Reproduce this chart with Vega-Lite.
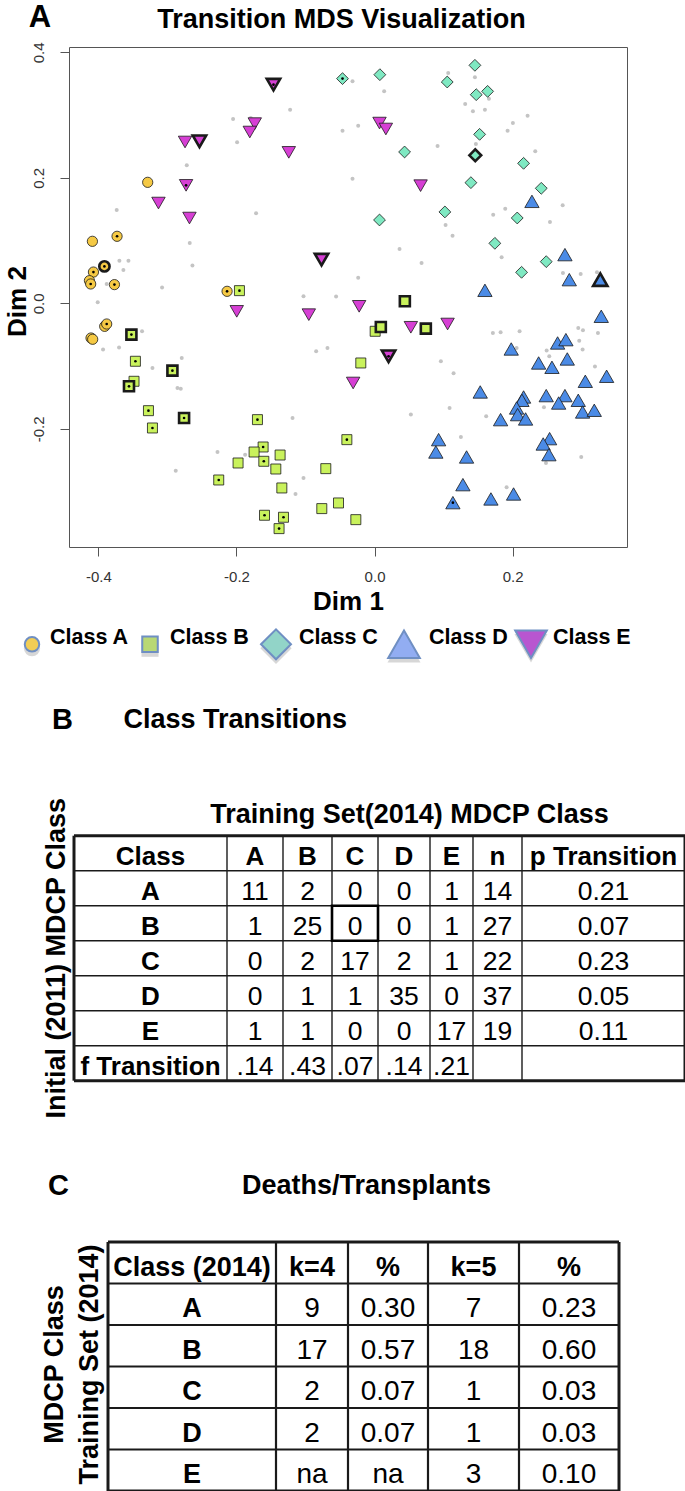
{
  "$schema": "https://vega.github.io/schema/vega-lite/v6.json",
  "padding": {"left": 3, "top": 0, "right": 0, "bottom": 0},
  "bounds": "flush",
  "spacing": 0,
  "config": {
    "font": "Liberation Sans",
    "view": {"stroke": null},
    "axis": {"grid": false, "domain": false},
    "text": {"font": "Liberation Sans", "color": "#000"},
    "title": {"font": "Liberation Sans", "color": "#000"}
  },
  "resolve": {"scale": {"x": "independent", "y": "independent", "fill": "independent", "shape": "independent", "size": "independent", "strokeWidth": "independent"}},
  "datasets": {
    "gray": [
      {"x":-0.1223,"y":0.3086},{"x":-0.2049,"y":0.2937},{"x":-0.1793,"y":0.2953},{"x":-0.1991,"y":0.2566},{"x":-0.2720,"y":0.2199},{"x":-0.1716,"y":0.1434},{"x":-0.3735,"y":0.1487},{"x":-0.2677,"y":0.0961},{"x":-0.2638,"y":0.0601},{"x":-0.3696,"y":0.0680},{"x":-0.3565,"y":0.0680},{"x":-0.3638,"y":0.0531},{"x":-0.3880,"y":0.0308},{"x":-0.3078,"y":0.0250},{"x":-0.4010,"y":0.0016},{"x":-0.1029,"y":0.0112},{"x":-0.0557,"y":0.0107},{"x":-0.0464,"y":0.2752},{"x":-0.0319,"y":0.3538},{"x":0.0139,"y":0.3378},{"x":0.1067,"y":0.3670},{"x":0.1454,"y":0.3602},{"x":0.1313,"y":0.3176},{"x":0.1425,"y":0.3060},{"x":0.1599,"y":0.3086},{"x":0.1657,"y":0.3262},{"x":0.2217,"y":0.2991},{"x":0.2004,"y":0.2873},{"x":0.1927,"y":0.2752},{"x":-0.0237,"y":0.2831},{"x":0.0913,"y":0.2507},{"x":0.1468,"y":0.2539},{"x":0.2328,"y":0.2422},{"x":-0.0319,"y":0.1987},{"x":0.2725,"y":0.1562},{"x":0.1893,"y":0.1509},{"x":0.1719,"y":0.1413},{"x":0.2541,"y":0.1296},{"x":0.1029,"y":0.1248},{"x":0.1130,"y":0.1078},{"x":0.0362,"y":0.0866},{"x":0.0681,"y":0.0643},{"x":0.1841,"y":0.0733},{"x":0.2729,"y":0.0483},{"x":0.2986,"y":0.0467},{"x":0.3222,"y":0.0494},{"x":-0.0237,"y":0.0409},{"x":-0.3368,"y":-0.0446},{"x":-0.3933,"y":-0.0738},{"x":-0.3701,"y":-0.0706},{"x":-0.3217,"y":-0.1031},{"x":-0.2793,"y":-0.0871},{"x":-0.2855,"y":-0.1350},{"x":-0.2807,"y":-0.1360},{"x":-0.2880,"y":-0.2667},{"x":-0.2275,"y":-0.2370},{"x":-0.1875,"y":-0.2412},{"x":-0.1188,"y":-0.1828},{"x":-0.1029,"y":-0.2784},{"x":-0.1145,"y":-0.3039},{"x":-0.0846,"y":-0.0765},{"x":-0.0682,"y":-0.0712},{"x":0.1714,"y":-0.0473},{"x":0.1826,"y":-0.0462},{"x":0.2101,"y":-0.0446},{"x":0.2058,"y":-0.0712},{"x":0.2493,"y":-0.0754},{"x":0.2531,"y":-0.0845},{"x":0.2951,"y":-0.0394},{"x":0.3019,"y":-0.0430},{"x":0.3236,"y":-0.0473},{"x":0.2965,"y":-0.0595},{"x":0.3014,"y":-0.0738},{"x":0.3193,"y":-0.1009},{"x":0.0961,"y":-0.0924},{"x":0.1145,"y":-0.1116},{"x":0.0526,"y":-0.1774},{"x":0.1087,"y":-0.1668},{"x":0.1617,"y":-0.1801},{"x":0.2454,"y":-0.1657},{"x":0.1251,"y":-0.2130},{"x":0.2994,"y":-0.2449},{"x":0.2483,"y":-0.2545},{"x":0.1913,"y":-0.2932}
    ],
    "pts": [
      {"x":-0.4087,"y":0.0988,"c":"A","d":0,"b":0},{"x":-0.3286,"y":0.1928,"c":"A","d":0,"b":0},{"x":-0.3730,"y":0.1068,"c":"A","d":1,"b":0},{"x":-0.4072,"y":0.0498,"c":"A","d":1,"b":0},{"x":-0.4130,"y":0.0361,"c":"A","d":0,"b":0},{"x":-0.4112,"y":0.0308,"c":"A","d":1,"b":0},{"x":-0.3768,"y":0.0298,"c":"A","d":1,"b":0},{"x":-0.2136,"y":0.0191,"c":"A","d":1,"b":0},{"x":-0.3909,"y":-0.0367,"c":"A","d":0,"b":0},{"x":-0.3880,"y":-0.0330,"c":"A","d":1,"b":0},{"x":-0.4107,"y":-0.0553,"c":"A","d":0,"b":0},{"x":-0.4083,"y":-0.0573,"c":"A","d":0,"b":0},
      {"x":-0.1957,"y":0.0202,"c":"B","d":1,"b":0},{"x":-0.3464,"y":-0.0924,"c":"B","d":1,"b":0},{"x":-0.3484,"y":-0.1243,"c":"B","d":0,"b":0},{"x":-0.3275,"y":-0.1711,"c":"B","d":1,"b":0},{"x":-0.3217,"y":-0.1987,"c":"B","d":1,"b":0},{"x":-0.1696,"y":-0.1854,"c":"B","d":1,"b":0},{"x":-0.1614,"y":-0.2290,"c":"B","d":1,"b":0},{"x":-0.1745,"y":-0.2370,"c":"B","d":0,"b":0},{"x":-0.1604,"y":-0.2518,"c":"B","d":1,"b":0},{"x":-0.1368,"y":-0.2418,"c":"B","d":0,"b":0},{"x":-0.1977,"y":-0.2545,"c":"B","d":0,"b":0},{"x":-0.1430,"y":-0.2641,"c":"B","d":0,"b":0},{"x":-0.0706,"y":-0.2635,"c":"B","d":0,"b":0},{"x":-0.2257,"y":-0.2816,"c":"B","d":1,"b":0},{"x":-0.1343,"y":-0.2943,"c":"B","d":0,"b":0},{"x":-0.0522,"y":-0.3182,"c":"B","d":0,"b":0},{"x":-0.0764,"y":-0.3272,"c":"B","d":0,"b":0},{"x":-0.1594,"y":-0.3378,"c":"B","d":1,"b":0},{"x":-0.1319,"y":-0.3410,"c":"B","d":1,"b":0},{"x":-0.1383,"y":-0.3591,"c":"B","d":1,"b":0},{"x":-0.0401,"y":-0.2173,"c":"B","d":1,"b":0},{"x":-0.0271,"y":-0.3448,"c":"B","d":0,"b":0},{"x":-0.0199,"y":-0.0951,"c":"B","d":0,"b":0},{"x":0.0009,"y":-0.0446,"c":"B","d":0,"b":0},
      {"x":-0.0464,"y":0.3581,"c":"C","d":1,"b":0},{"x":0.0077,"y":0.3644,"c":"C","d":0,"b":0},{"x":0.1053,"y":0.3527,"c":"C","d":0,"b":0},{"x":0.1454,"y":0.3793,"c":"C","d":0,"b":0},{"x":0.1473,"y":0.3325,"c":"C","d":0,"b":0},{"x":0.1638,"y":0.3378,"c":"C","d":0,"b":0},{"x":0.1522,"y":0.2693,"c":"C","d":0,"b":0},{"x":0.0435,"y":0.2412,"c":"C","d":0,"b":0},{"x":0.2159,"y":0.2231,"c":"C","d":0,"b":0},{"x":0.1396,"y":0.1923,"c":"C","d":0,"b":0},{"x":0.2415,"y":0.1833,"c":"C","d":0,"b":0},{"x":0.1019,"y":0.1456,"c":"C","d":0,"b":0},{"x":0.0072,"y":0.1328,"c":"C","d":0,"b":0},{"x":0.2067,"y":0.1360,"c":"C","d":0,"b":0},{"x":0.1743,"y":0.0956,"c":"C","d":0,"b":0},{"x":0.2487,"y":0.0664,"c":"C","d":0,"b":0},{"x":0.2130,"y":0.0494,"c":"C","d":0,"b":0},
      {"x":0.2280,"y":0.1625,"c":"D","d":0,"b":0},{"x":0.2758,"y":0.0776,"c":"D","d":0,"b":0},{"x":0.2821,"y":0.0377,"c":"D","d":0,"b":0},{"x":0.1599,"y":0.0207,"c":"D","d":0,"b":0},{"x":0.3284,"y":-0.0207,"c":"D","d":0,"b":0},{"x":0.1980,"y":-0.0728,"c":"D","d":0,"b":0},{"x":0.2652,"y":-0.0632,"c":"D","d":0,"b":0},{"x":0.2772,"y":-0.0579,"c":"D","d":0,"b":0},{"x":0.2377,"y":-0.0951,"c":"D","d":0,"b":0},{"x":0.2570,"y":-0.1020,"c":"D","d":0,"b":0},{"x":0.2792,"y":-0.0887,"c":"D","d":0,"b":0},{"x":0.3053,"y":-0.1243,"c":"D","d":0,"b":0},{"x":0.3362,"y":-0.1163,"c":"D","d":0,"b":0},{"x":0.1531,"y":-0.1413,"c":"D","d":0,"b":0},{"x":0.2159,"y":-0.1493,"c":"D","d":0,"b":0},{"x":0.2135,"y":-0.1546,"c":"D","d":0,"b":0},{"x":0.2058,"y":-0.1668,"c":"D","d":0,"b":0},{"x":0.2072,"y":-0.1774,"c":"D","d":0,"b":0},{"x":0.2188,"y":-0.1843,"c":"D","d":0,"b":0},{"x":0.1826,"y":-0.1854,"c":"D","d":0,"b":0},{"x":0.2487,"y":-0.1471,"c":"D","d":0,"b":0},{"x":0.2758,"y":-0.1471,"c":"D","d":0,"b":0},{"x":0.2667,"y":-0.1589,"c":"D","d":0,"b":0},{"x":0.2951,"y":-0.1546,"c":"D","d":0,"b":0},{"x":0.3014,"y":-0.1732,"c":"D","d":0,"b":0},{"x":0.3183,"y":-0.1705,"c":"D","d":0,"b":0},{"x":0.0928,"y":-0.2173,"c":"D","d":0,"b":0},{"x":0.0888,"y":-0.2370,"c":"D","d":0,"b":0},{"x":0.1333,"y":-0.2449,"c":"D","d":0,"b":0},{"x":0.2536,"y":-0.2157,"c":"D","d":0,"b":0},{"x":0.2443,"y":-0.2242,"c":"D","d":0,"b":0},{"x":0.2526,"y":-0.2412,"c":"D","d":0,"b":0},{"x":0.1280,"y":-0.2890,"c":"D","d":0,"b":0},{"x":0.1135,"y":-0.3177,"c":"D","d":1,"b":0},{"x":0.1686,"y":-0.3118,"c":"D","d":0,"b":0},{"x":0.2014,"y":-0.3039,"c":"D","d":0,"b":0},
      {"x":-0.2745,"y":0.2571,"c":"E","d":0,"b":0},{"x":-0.1735,"y":0.2864,"c":"E","d":0,"b":0},{"x":-0.1807,"y":0.2730,"c":"E","d":0,"b":0},{"x":-0.1242,"y":0.2406,"c":"E","d":0,"b":0},{"x":-0.2730,"y":0.1880,"c":"E","d":1,"b":0},{"x":-0.3130,"y":0.1598,"c":"E","d":0,"b":0},{"x":-0.2681,"y":0.1359,"c":"E","d":0,"b":0},{"x":-0.1996,"y":-0.0128,"c":"E","d":0,"b":0},{"x":-0.0952,"y":-0.0181,"c":"E","d":0,"b":0},{"x":0.0072,"y":0.2873,"c":"E","d":0,"b":0},{"x":0.0164,"y":0.2778,"c":"E","d":0,"b":0},{"x":0.0667,"y":0.1875,"c":"E","d":0,"b":0},{"x":-0.0223,"y":-0.0048,"c":"E","d":0,"b":0},{"x":0.0526,"y":-0.0382,"c":"E","d":0,"b":0},{"x":0.1058,"y":-0.0330,"c":"E","d":0,"b":0},{"x":-0.0310,"y":-0.1270,"c":"E","d":0,"b":0},
      {"x":-0.3913,"y":0.0588,"c":"A","d":1,"b":1},
      {"x":-0.3522,"y":-0.0499,"c":"B","d":1,"b":1},{"x":-0.3557,"y":-0.1323,"c":"B","d":1,"b":1},{"x":-0.2928,"y":-0.1073,"c":"B","d":1,"b":1},{"x":-0.2759,"y":-0.1828,"c":"B","d":1,"b":1},{"x":0.0091,"y":-0.0378,"c":"B","d":0,"b":1},{"x":0.0743,"y":-0.0404,"c":"B","d":0,"b":1},{"x":0.0439,"y":0.0032,"c":"B","d":0,"b":1},
      {"x":0.1459,"y":0.2359,"c":"C","d":0,"b":1},
      {"x":0.3270,"y":0.0377,"c":"D","d":0,"b":1},
      {"x":-0.1464,"y":0.3485,"c":"E","d":1,"b":1},{"x":-0.2536,"y":0.2582,"c":"E","d":0,"b":1},{"x":-0.0768,"y":0.0696,"c":"E","d":0,"b":1},{"x":0.0203,"y":-0.0845,"c":"E","d":1,"b":1}
    ],
    "leg": [
      {"k":1,"c":"A","t":"Class A"},{"k":2,"c":"B","t":"Class B"},{"k":3,"c":"C","t":"Class C"},{"k":4,"c":"D","t":"Class D"},{"k":5,"c":"E","t":"Class E"}
    ],
    "tB": [
      {"r":0,"c":0,"t":"Class"},{"r":0,"c":1,"t":"A"},{"r":0,"c":2,"t":"B"},{"r":0,"c":3,"t":"C"},{"r":0,"c":4,"t":"D"},{"r":0,"c":5,"t":"E"},{"r":0,"c":6,"t":"n"},{"r":0,"c":7,"t":"p Transition"},
      {"r":1,"c":0,"t":"A"},{"r":1,"c":1,"t":"11"},{"r":1,"c":2,"t":"2"},{"r":1,"c":3,"t":"0"},{"r":1,"c":4,"t":"0"},{"r":1,"c":5,"t":"1"},{"r":1,"c":6,"t":"14"},{"r":1,"c":7,"t":"0.21"},
      {"r":2,"c":0,"t":"B"},{"r":2,"c":1,"t":"1"},{"r":2,"c":2,"t":"25"},{"r":2,"c":3,"t":"0"},{"r":2,"c":4,"t":"0"},{"r":2,"c":5,"t":"1"},{"r":2,"c":6,"t":"27"},{"r":2,"c":7,"t":"0.07"},
      {"r":3,"c":0,"t":"C"},{"r":3,"c":1,"t":"0"},{"r":3,"c":2,"t":"2"},{"r":3,"c":3,"t":"17"},{"r":3,"c":4,"t":"2"},{"r":3,"c":5,"t":"1"},{"r":3,"c":6,"t":"22"},{"r":3,"c":7,"t":"0.23"},
      {"r":4,"c":0,"t":"D"},{"r":4,"c":1,"t":"0"},{"r":4,"c":2,"t":"1"},{"r":4,"c":3,"t":"1"},{"r":4,"c":4,"t":"35"},{"r":4,"c":5,"t":"0"},{"r":4,"c":6,"t":"37"},{"r":4,"c":7,"t":"0.05"},
      {"r":5,"c":0,"t":"E"},{"r":5,"c":1,"t":"1"},{"r":5,"c":2,"t":"1"},{"r":5,"c":3,"t":"0"},{"r":5,"c":4,"t":"0"},{"r":5,"c":5,"t":"17"},{"r":5,"c":6,"t":"19"},{"r":5,"c":7,"t":"0.11"},
      {"r":6,"c":0,"t":"f Transition"},{"r":6,"c":1,"t":".14"},{"r":6,"c":2,"t":".43"},{"r":6,"c":3,"t":".07"},{"r":6,"c":4,"t":".14"},{"r":6,"c":5,"t":".21"}
    ],
    "tC": [
      {"r":0,"c":0,"t":"Class (2014)"},{"r":0,"c":1,"t":"k=4"},{"r":0,"c":2,"t":"%"},{"r":0,"c":3,"t":"k=5"},{"r":0,"c":4,"t":"%"},
      {"r":1,"c":0,"t":"A"},{"r":1,"c":1,"t":"9"},{"r":1,"c":2,"t":"0.30"},{"r":1,"c":3,"t":"7"},{"r":1,"c":4,"t":"0.23"},
      {"r":2,"c":0,"t":"B"},{"r":2,"c":1,"t":"17"},{"r":2,"c":2,"t":"0.57"},{"r":2,"c":3,"t":"18"},{"r":2,"c":4,"t":"0.60"},
      {"r":3,"c":0,"t":"C"},{"r":3,"c":1,"t":"2"},{"r":3,"c":2,"t":"0.07"},{"r":3,"c":3,"t":"1"},{"r":3,"c":4,"t":"0.03"},
      {"r":4,"c":0,"t":"D"},{"r":4,"c":1,"t":"2"},{"r":4,"c":2,"t":"0.07"},{"r":4,"c":3,"t":"1"},{"r":4,"c":4,"t":"0.03"},
      {"r":5,"c":0,"t":"E"},{"r":5,"c":1,"t":"na"},{"r":5,"c":2,"t":"na"},{"r":5,"c":3,"t":"3"},{"r":5,"c":4,"t":"0.10"}
    ],
    "vB": [{"b":0},{"b":1},{"b":2},{"b":3},{"b":4},{"b":5},{"b":6},{"b":7},{"b":8}],
    "hB": [{"h":0},{"h":1},{"h":2},{"h":3},{"h":4},{"h":5},{"h":6},{"h":7}],
    "vC": [{"b":0},{"b":1},{"b":2},{"b":3},{"b":4},{"b":5}],
    "hC": [{"h":0},{"h":1},{"h":2},{"h":3},{"h":4},{"h":5},{"h":6}]
  },
  "vconcat": [
    {
      "width": 558,
      "height": 500,
      "view": {"stroke": "#555", "strokeWidth": 1},
      "layer": [
        {"data": {"name": "gray"}, "mark": {"type": "point", "filled": true, "size": 16, "color": "#c4c4c4", "opacity": 1},
         "encoding": {
           "x": {"field": "x", "type": "quantitative", "scale": {"domain": [-0.4426, 0.3657], "nice": false, "zero": false},
             "axis": {"orient": "top", "title": "Transition MDS Visualization", "titleX": 272, "titleY": -27.7, "titleAlign": "center", "titleBaseline": "middle", "titleFontSize": 27, "titleFontWeight": "bold", "titleColor": "#000", "ticks": false, "labels": false, "domain": false, "grid": false}},
           "y": {"field": "y", "type": "quantitative", "scale": {"domain": [-0.3884, 0.4085], "nice": false, "zero": false}, "axis": null}
         }},
        {"data": {"name": "pts"},
         "mark": {"type": "point", "filled": true, "stroke": "#1a1a1a", "opacity": 1, "fillOpacity": 1, "strokeOpacity": 1},
         "encoding": {
           "x": {"field": "x", "type": "quantitative", "scale": {"domain": [-0.4426, 0.3657], "nice": false, "zero": false},
             "axis": {"orient": "bottom", "values": [-0.4, -0.2, 0, 0.2], "labelExpr": "replace(format(datum.value, '.1f'), '\u2212', '-')", "title": "Dim 1", "domain": false, "grid": false, "ticks": true, "tickSize": 9, "tickColor": "#555", "tickWidth": 1, "labelFontSize": 15, "labelColor": "#333", "labelPadding": 13, "titleFontSize": 26, "titleFontWeight": "bold", "titleColor": "#000", "titleY": 54, "titleBaseline": "middle", "titleAlign": "center"}},
           "y": {"field": "y", "type": "quantitative", "scale": {"domain": [-0.3884, 0.4085], "nice": false, "zero": false},
             "axis": {"orient": "left", "values": [-0.2, 0, 0.2, 0.4], "labelExpr": "replace(format(datum.value, '.1f'), '\u2212', '-')", "title": "Dim 2", "domain": false, "grid": false, "ticks": true, "tickSize": 9, "tickColor": "#555", "tickWidth": 1, "labelFontSize": 15, "labelColor": "#333", "labelAngle": -90, "labelAlign": "center", "labelBaseline": "bottom", "labelPadding": 14, "titleFontSize": 26, "titleFontWeight": "bold", "titleColor": "#000", "titleAngle": -90, "titleX": -52, "titleY": 254, "titleBaseline": "middle", "titleAlign": "center"}},
           "shape": {"field": "c", "type": "nominal", "scale": {"domain": ["A","B","C","D","E"], "range": ["circle","square","diamond","triangle-up","triangle-down"]}, "legend": null},
           "fill": {"field": "c", "type": "nominal", "scale": {"domain": ["A","B","C","D","E"], "range": ["#f5c944","#c9f25c","#7fe9c2","#4b8be6","#d63fd4"]}, "legend": null},
           "size": {"condition": [{"test": "datum.c == 'A'", "value": 105}, {"test": "datum.c == 'B'", "value": 100}, {"test": "datum.c == 'C'", "value": 140}, {"test": "datum.c == 'D'", "value": 205}], "value": 180},
           "strokeWidth": {"condition": {"test": "datum.b == 1", "value": 2.6}, "value": 0.8}
         }},
        {"data": {"name": "pts"}, "transform": [{"filter": "datum.d == 1"}], "mark": {"type": "point", "filled": true, "size": 7, "color": "#000", "opacity": 1},
         "encoding": {
           "x": {"field": "x", "type": "quantitative", "scale": {"domain": [-0.4426, 0.3657], "nice": false, "zero": false}, "axis": null},
           "y": {"field": "y", "type": "quantitative", "scale": {"domain": [-0.3884, 0.4085], "nice": false, "zero": false},
             "axis": {"orient": "right", "title": "A", "titleAngle": 0, "titleX": -587.5, "titleY": -29.7, "titleAlign": "center", "titleBaseline": "middle", "titleFontSize": 31, "titleFontWeight": "bold", "titleColor": "#000", "ticks": false, "labels": false, "domain": false, "grid": false}}
         }}
      ],
      "resolve": {"axis": {"x": "independent", "y": "independent"}}
    },
    {
      "width": 558,
      "height": 194.6,
      "data": {"name": "leg"},
      "encoding": {
        "x": {"field": "k", "type": "quantitative", "scale": {"domain": [1,2,3,4,5], "range": [-37, 81, 207, 335, 462], "nice": false, "zero": false}, "axis": null}
      },
      "layer": [
        {
          "layer": [
            {"mark": {"type": "point", "filled": true, "opacity": 0.28, "color": "#707070", "strokeWidth": 0},
             "encoding": {
               "yOffset": {"value": 4},
               "shape": {"field": "c", "type": "nominal", "scale": {"domain": ["A","B","C","D","E"], "range": ["circle","square","diamond","triangle-up","triangle-down"]}, "legend": null},
               "size": {"condition": [{"test": "datum.c == 'A'", "value": 260}, {"test": "datum.c == 'B'", "value": 290}, {"test": "datum.c == 'C'", "value": 980}], "value": 1090}
             }},
            {"mark": {"type": "point", "filled": true, "stroke": "#6f8fc3", "strokeWidth": 2, "opacity": 1},
             "encoding": {
               "shape": {"field": "c", "type": "nominal", "scale": {"domain": ["A","B","C","D","E"], "range": ["circle","square","diamond","triangle-up","triangle-down"]}, "legend": null},
               "fill": {"field": "c", "type": "nominal", "scale": {"domain": ["A","B","C","D","E"], "range": ["#f1cd56","#b9d874","#92d4c8","#92adf2","#b856d0"]}, "legend": null},
               "size": {"condition": [{"test": "datum.c == 'A'", "value": 210}, {"test": "datum.c == 'B'", "value": 240}, {"test": "datum.c == 'C'", "value": 900}], "value": 1000}
             }}
          ]
        },
        {"mark": {"type": "text", "align": "left", "baseline": "middle", "dy": -6, "fontSize": 21.5, "fontWeight": "bold"},
         "encoding": {
           "x": {"field": "k", "type": "quantitative", "scale": {"domain": [1,2,3,4,5], "range": [-19, 101, 230, 360, 484], "nice": false, "zero": false}, "axis": null},
           "text": {"field": "t", "type": "nominal"}
         }}
      ],
      "resolve": {"scale": {"x": "independent"}}
    },
    {
      "width": 616,
      "height": 464.7,
      "layer": [
        {
          "data": {"name": "tB"},
          "encoding": {
            "x": {"field": "c", "type": "quantitative", "scale": {"domain": [0,1,2,3,4,5,6,7], "range": [81.5,186,238.5,286,335,382.5,428.5,534.5], "nice": false, "zero": false},
              "axis": {"orient": "top", "title": "Training Set(2014) MDCP Class", "titleX": 340, "titleY": 72.7, "titleBaseline": "middle", "titleAlign": "center", "titleFontSize": 27, "titleFontWeight": "bold", "titleColor": "#000", "ticks": false, "labels": false, "domain": false, "grid": false}},
            "y": {"field": "r", "type": "quantitative", "scale": {"domain": [0, 6], "range": [114.9, 324.7], "nice": false, "zero": false},
              "axis": {"orient": "left", "title": "Initial (2011) MDCP Class", "titleX": -13, "titleY": 215.7, "titleAngle": -90, "titleBaseline": "middle", "titleAlign": "center", "titleFontSize": 27, "titleFontWeight": "bold", "titleColor": "#000", "ticks": false, "labels": false, "domain": false, "grid": false}},
            "text": {"field": "t", "type": "nominal"}
          },
          "layer": [
            {"transform": [{"filter": "datum.r == 0 || datum.c == 0"}], "mark": {"type": "text", "fontSize": 26, "fontWeight": "bold", "baseline": "middle", "align": "center"}},
            {"transform": [{"filter": "datum.r > 0 && datum.c > 0"}], "mark": {"type": "text", "fontSize": 26.5, "baseline": "middle", "align": "center"}}
          ]
        },
        {
          "layer": [
            {"data": {"name": "vB"}, "mark": {"type": "rule", "color": "#1a1a1a"},
             "encoding": {
               "x": {"field": "b", "type": "quantitative", "scale": {"domain": [0,1,2,3,4,5,6,7,8], "range": [5,158,214,263,309,361,404,453,616], "nice": false, "zero": false},
                 "axis": {"orient": "top", "title": "Class Transitions", "titleX": 54, "titleY": -22.3, "titleAlign": "left", "titleBaseline": "middle", "titleFontSize": 27, "titleFontWeight": "bold", "titleColor": "#000", "ticks": false, "labels": false, "domain": false, "grid": false}},
               "y": {"datum": 0, "type": "quantitative", "scale": {"domain": [0, 7], "range": [93.7, 338.7], "nice": false, "zero": false},
                 "axis": {"orient": "right", "title": "B", "titleAngle": 0, "titleX": -623, "titleY": -22.3, "titleAlign": "center", "titleBaseline": "middle", "titleFontSize": 29, "titleFontWeight": "bold", "titleColor": "#000", "ticks": false, "labels": false, "domain": false, "grid": false}},
               "y2": {"datum": 7},
               "strokeWidth": {"condition": {"test": "datum.b == 0 || datum.b == 8", "value": 3}, "value": 1.4}
             }},
            {"data": {"name": "hB"}, "mark": {"type": "rule", "color": "#1a1a1a"},
             "encoding": {
               "y": {"field": "h", "type": "quantitative", "scale": {"domain": [0, 7], "range": [93.7, 338.7], "nice": false, "zero": false},
                 "axis": {"orient": "right", "title": "B", "titleAngle": 0, "titleX": -623, "titleY": -22.3, "titleAlign": "center", "titleBaseline": "middle", "titleFontSize": 29, "titleFontWeight": "bold", "titleColor": "#000", "ticks": false, "labels": false, "domain": false, "grid": false}},
               "x": {"datum": 0, "type": "quantitative"},
               "x2": {"datum": 8},
               "strokeWidth": {"condition": {"test": "datum.h == 0 || datum.h == 7", "value": 3}, "value": 1.4}
             }},
            {"data": {"values": [{"cell": "B-C"}]}, "mark": {"type": "rect", "fill": null, "fillOpacity": 0, "stroke": "#000", "strokeWidth": 2.6},
             "encoding": {"x": {"datum": 3, "type": "quantitative"}, "x2": {"datum": 4}, "y": {"datum": 2, "type": "quantitative"}, "y2": {"datum": 3}}}
          ]
        }
      ],
      "resolve": {"scale": {"x": "independent", "y": "independent"}, "axis": {"x": "independent", "y": "independent"}}
    },
    {
      "width": 550,
      "height": 284,
      "layer": [
        {
          "data": {"name": "tC"},
          "encoding": {
            "x": {"field": "c", "type": "quantitative", "scale": {"domain": [0,1,2,3,4], "range": [123,243,319,404.5,500], "nice": false, "zero": false}, "axis": null},
            "y": {"field": "r", "type": "quantitative", "scale": {"domain": [0, 5], "range": [60.75, 268.25], "nice": false, "zero": false},
              "axis": {"orient": "left", "title": ["MDCP Class", "Training Set (2014)"], "titleX": -15, "titleY": 157, "titleAngle": -90, "titleBaseline": "middle", "titleAlign": "center", "titleLineHeight": 35, "titleFontSize": 27, "titleFontWeight": "bold", "titleColor": "#000", "ticks": false, "labels": false, "domain": false, "grid": false}},
            "text": {"field": "t", "type": "nominal"}
          },
          "layer": [
            {"transform": [{"filter": "datum.r == 0 || datum.c == 0"}], "mark": {"type": "text", "fontSize": 27, "fontWeight": "bold", "baseline": "middle", "align": "center"}},
            {"transform": [{"filter": "datum.r > 0 && datum.c > 0"}], "mark": {"type": "text", "fontSize": 28, "baseline": "middle", "align": "center"}}
          ]
        },
        {
          "layer": [
            {"data": {"name": "vC"}, "mark": {"type": "rule", "color": "#1a1a1a"},
             "encoding": {
               "x": {"field": "b", "type": "quantitative", "scale": {"domain": [0,1,2,3,4,5], "range": [39,207,279,359,450,550], "nice": false, "zero": false},
                 "axis": {"orient": "top", "title": "Deaths/Transplants", "titleX": 297, "titleY": -22, "titleAlign": "center", "titleBaseline": "middle", "titleFontSize": 27, "titleFontWeight": "bold", "titleColor": "#000", "ticks": false, "labels": false, "domain": false, "grid": false}},
               "y": {"datum": 0, "type": "quantitative", "scale": {"domain": [0, 6], "range": [35, 284], "nice": false, "zero": false},
                 "axis": {"orient": "right", "title": "C", "titleAngle": 0, "titleX": -561, "titleY": -22, "titleAlign": "center", "titleBaseline": "middle", "titleFontSize": 29, "titleFontWeight": "bold", "titleColor": "#000", "ticks": false, "labels": false, "domain": false, "grid": false}},
               "y2": {"datum": 6},
               "strokeWidth": {"condition": {"test": "datum.b == 0 || datum.b == 5", "value": 3}, "value": 2.2}
             }},
            {"data": {"name": "hC"}, "mark": {"type": "rule", "color": "#1a1a1a"},
             "encoding": {
               "y": {"field": "h", "type": "quantitative", "scale": {"domain": [0, 6], "range": [35, 284], "nice": false, "zero": false},
                 "axis": {"orient": "right", "title": "C", "titleAngle": 0, "titleX": -561, "titleY": -22, "titleAlign": "center", "titleBaseline": "middle", "titleFontSize": 29, "titleFontWeight": "bold", "titleColor": "#000", "ticks": false, "labels": false, "domain": false, "grid": false}},
               "x": {"datum": 0, "type": "quantitative"},
               "x2": {"datum": 5},
               "strokeWidth": {"condition": {"test": "datum.h == 0 || datum.h == 6", "value": 3}, "value": 2.2}
             }}
          ]
        }
      ],
      "resolve": {"scale": {"x": "independent", "y": "independent"}, "axis": {"x": "independent", "y": "independent"}}
    }
  ]
}
